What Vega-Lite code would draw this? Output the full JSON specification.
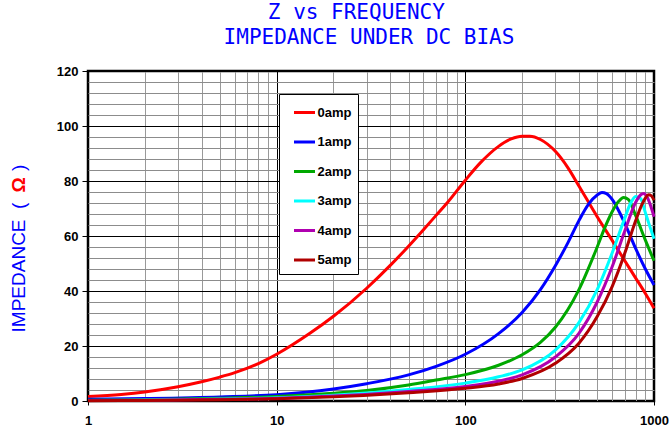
{
  "$schema": "https://vega.github.io/schema/vega-lite/v6.json",
  "width": 566,
  "height": 330,
  "autosize": "none",
  "padding": {"left": 88, "top": 71, "right": 15, "bottom": 28},
  "title": {
    "text": ["Z vs FREQUENCY\u00a0\u00a0\u200b", "IMPEDANCE UNDER DC BIAS"],
    "font": "DejaVu Sans Mono",
    "fontSize": 21,
    "fontWeight": "normal",
    "color": "#0000ff",
    "anchor": "middle",
    "frame": "group",
    "lineHeight": 25,
    "offset": 17,
    "dx": -2
  },
  "config": {
    "view": {"stroke": "black", "strokeWidth": 2.5},
    "font": "Liberation Sans"
  },
  "datasets": {
    "curves": [
      {"f": 1, "z": 1.6, "s": "0amp"}, {"f": 1.5, "z": 2.4, "s": "0amp"}, {"f": 2, "z": 3.3, "s": "0amp"}, {"f": 3, "z": 5.2, "s": "0amp"}, {"f": 4, "z": 7.0, "s": "0amp"}, {"f": 5, "z": 8.7, "s": "0amp"}, {"f": 6, "z": 10.3, "s": "0amp"}, {"f": 8, "z": 13.6, "s": "0amp"}, {"f": 10, "z": 17, "s": "0amp"}, {"f": 15, "z": 24.6, "s": "0amp"}, {"f": 20, "z": 30.8, "s": "0amp"}, {"f": 30, "z": 41, "s": "0amp"}, {"f": 40, "z": 49.3, "s": "0amp"}, {"f": 50, "z": 56.3, "s": "0amp"}, {"f": 60, "z": 62.3, "s": "0amp"}, {"f": 70, "z": 67.5, "s": "0amp"}, {"f": 80, "z": 72, "s": "0amp"}, {"f": 100, "z": 80.3, "s": "0amp"}, {"f": 120, "z": 86.6, "s": "0amp"}, {"f": 150, "z": 92.6, "s": "0amp"}, {"f": 175, "z": 95.3, "s": "0amp"}, {"f": 200, "z": 96.3, "s": "0amp"}, {"f": 220, "z": 96.3, "s": "0amp"}, {"f": 250, "z": 95.1, "s": "0amp"}, {"f": 300, "z": 90.8, "s": "0amp"}, {"f": 350, "z": 84.8, "s": "0amp"}, {"f": 400, "z": 78.2, "s": "0amp"}, {"f": 500, "z": 67, "s": "0amp"}, {"f": 600, "z": 58.4, "s": "0amp"}, {"f": 700, "z": 51, "s": "0amp"}, {"f": 800, "z": 44.7, "s": "0amp"}, {"f": 900, "z": 39.1, "s": "0amp"}, {"f": 1000, "z": 33.7, "s": "0amp"},
      {"f": 1, "z": 0.6, "s": "1amp"}, {"f": 2, "z": 0.9, "s": "1amp"}, {"f": 5, "z": 1.5, "s": "1amp"}, {"f": 10, "z": 2.3, "s": "1amp"}, {"f": 20, "z": 4.4, "s": "1amp"}, {"f": 30, "z": 6.3, "s": "1amp"}, {"f": 50, "z": 9.5, "s": "1amp"}, {"f": 70, "z": 12.6, "s": "1amp"}, {"f": 100, "z": 17, "s": "1amp"}, {"f": 150, "z": 24.5, "s": "1amp"}, {"f": 200, "z": 32.2, "s": "1amp"}, {"f": 250, "z": 40.5, "s": "1amp"}, {"f": 300, "z": 49.2, "s": "1amp"}, {"f": 350, "z": 57.6, "s": "1amp"}, {"f": 400, "z": 65.6, "s": "1amp"}, {"f": 450, "z": 71.6, "s": "1amp"}, {"f": 500, "z": 74.9, "s": "1amp"}, {"f": 530, "z": 75.8, "s": "1amp"}, {"f": 560, "z": 75.4, "s": "1amp"}, {"f": 600, "z": 73.3, "s": "1amp"}, {"f": 650, "z": 69.2, "s": "1amp"}, {"f": 700, "z": 64.6, "s": "1amp"}, {"f": 800, "z": 55.4, "s": "1amp"}, {"f": 900, "z": 48, "s": "1amp"}, {"f": 1000, "z": 42.2, "s": "1amp"},
      {"f": 1, "z": 0.3, "s": "2amp"}, {"f": 2, "z": 0.5, "s": "2amp"}, {"f": 5, "z": 1.0, "s": "2amp"}, {"f": 10, "z": 1.6, "s": "2amp"}, {"f": 20, "z": 2.8, "s": "2amp"}, {"f": 30, "z": 3.8, "s": "2amp"}, {"f": 50, "z": 5.8, "s": "2amp"}, {"f": 70, "z": 7.6, "s": "2amp"}, {"f": 100, "z": 9.6, "s": "2amp"}, {"f": 150, "z": 13, "s": "2amp"}, {"f": 200, "z": 16.8, "s": "2amp"}, {"f": 250, "z": 21.3, "s": "2amp"}, {"f": 300, "z": 26.8, "s": "2amp"}, {"f": 400, "z": 40.5, "s": "2amp"}, {"f": 500, "z": 56, "s": "2amp"}, {"f": 550, "z": 63.2, "s": "2amp"}, {"f": 600, "z": 68.8, "s": "2amp"}, {"f": 650, "z": 72.6, "s": "2amp"}, {"f": 690, "z": 74, "s": "2amp"}, {"f": 730, "z": 73.3, "s": "2amp"}, {"f": 800, "z": 67.4, "s": "2amp"}, {"f": 900, "z": 58.5, "s": "2amp"}, {"f": 1000, "z": 51, "s": "2amp"},
      {"f": 1, "z": 0.2, "s": "3amp"}, {"f": 2, "z": 0.35, "s": "3amp"}, {"f": 5, "z": 0.7, "s": "3amp"}, {"f": 10, "z": 1.2, "s": "3amp"}, {"f": 20, "z": 2.1, "s": "3amp"}, {"f": 50, "z": 4.2, "s": "3amp"}, {"f": 100, "z": 6.5, "s": "3amp"}, {"f": 150, "z": 8.8, "s": "3amp"}, {"f": 200, "z": 11.3, "s": "3amp"}, {"f": 300, "z": 18.5, "s": "3amp"}, {"f": 400, "z": 28.5, "s": "3amp"}, {"f": 500, "z": 40.5, "s": "3amp"}, {"f": 600, "z": 53.8, "s": "3amp"}, {"f": 700, "z": 66.5, "s": "3amp"}, {"f": 750, "z": 71.8, "s": "3amp"}, {"f": 800, "z": 74.4, "s": "3amp"}, {"f": 850, "z": 73.6, "s": "3amp"}, {"f": 900, "z": 68.5, "s": "3amp"}, {"f": 950, "z": 63.5, "s": "3amp"}, {"f": 1000, "z": 59, "s": "3amp"},
      {"f": 1, "z": 0.15, "s": "4amp"}, {"f": 2, "z": 0.3, "s": "4amp"}, {"f": 5, "z": 0.6, "s": "4amp"}, {"f": 10, "z": 1.0, "s": "4amp"}, {"f": 20, "z": 1.8, "s": "4amp"}, {"f": 50, "z": 3.5, "s": "4amp"}, {"f": 100, "z": 5.3, "s": "4amp"}, {"f": 150, "z": 7.2, "s": "4amp"}, {"f": 200, "z": 9.5, "s": "4amp"}, {"f": 300, "z": 16, "s": "4amp"}, {"f": 400, "z": 24.6, "s": "4amp"}, {"f": 500, "z": 36, "s": "4amp"}, {"f": 600, "z": 48.8, "s": "4amp"}, {"f": 700, "z": 61.8, "s": "4amp"}, {"f": 800, "z": 72.3, "s": "4amp"}, {"f": 850, "z": 75, "s": "4amp"}, {"f": 880, "z": 75.5, "s": "4amp"}, {"f": 920, "z": 74.2, "s": "4amp"}, {"f": 960, "z": 71, "s": "4amp"}, {"f": 1000, "z": 67, "s": "4amp"},
      {"f": 1, "z": 0.1, "s": "5amp"}, {"f": 2, "z": 0.2, "s": "5amp"}, {"f": 5, "z": 0.45, "s": "5amp"}, {"f": 10, "z": 0.8, "s": "5amp"}, {"f": 20, "z": 1.5, "s": "5amp"}, {"f": 50, "z": 3.0, "s": "5amp"}, {"f": 100, "z": 4.6, "s": "5amp"}, {"f": 150, "z": 6.2, "s": "5amp"}, {"f": 200, "z": 8.2, "s": "5amp"}, {"f": 300, "z": 13.7, "s": "5amp"}, {"f": 400, "z": 21, "s": "5amp"}, {"f": 500, "z": 30.7, "s": "5amp"}, {"f": 600, "z": 41.6, "s": "5amp"}, {"f": 700, "z": 53.7, "s": "5amp"}, {"f": 800, "z": 65.6, "s": "5amp"}, {"f": 860, "z": 71.2, "s": "5amp"}, {"f": 900, "z": 73.8, "s": "5amp"}, {"f": 935, "z": 75, "s": "5amp"}, {"f": 970, "z": 74.6, "s": "5amp"}, {"f": 1000, "z": 73, "s": "5amp"}
    ]
  },
  "data": {"name": "curves"},
  "layer": [
    {
      "mark": {"type": "line", "strokeWidth": 3, "interpolate": "monotone"},
      "encoding": {
        "x": {
          "field": "f", "type": "quantitative",
          "scale": {"type": "log", "domain": [1, 1000], "nice": false},
          "axis": {
            "values": [1,2,3,4,5,6,7,8,9,10,20,30,40,50,60,70,80,90,100,200,300,400,500,600,700,800,900,1000],
            "labelExpr": "(datum.value == 1 || datum.value == 10 || datum.value == 100 || datum.value == 1000) ? '' + datum.value : ''",
            "labelOverlap": false,
            "labelFlush": false,
            "labelFont": "Liberation Sans",
            "labelFontWeight": "bold",
            "labelFontSize": 13,
            "labelColor": "black",
            "labelPadding": 9,
            "domain": false,
            "grid": true,
            "gridColor": {"condition": {"test": "datum.value == 1 || datum.value == 10 || datum.value == 100 || datum.value == 1000", "value": "black"}, "value": "#999999"},
            "gridOpacity": 1,
            "gridWidth": 1,
            "tickColor": "black",
            "tickSize": {"condition": {"test": "datum.value == 1 || datum.value == 10 || datum.value == 100 || datum.value == 1000", "value": 4}, "value": 0},
            "title": null
          }
        },
        "y": {
          "field": "z", "type": "quantitative",
          "scale": {"domain": [0, 120], "nice": false},
          "axis": {
            "orient": "left",
            "values": [0,4,8,12,16,20,24,28,32,36,40,44,48,52,56,60,64,68,72,76,80,84,88,92,96,100,104,108,112,116,120],
            "labelExpr": "datum.value % 20 === 0 ? datum.label : ''",
            "labelOverlap": false,
            "labelFlush": false,
            "labelFont": "Liberation Sans",
            "labelFontWeight": "bold",
            "labelFontSize": 13,
            "labelColor": "black",
            "labelPadding": 4,
            "domain": false,
            "grid": true,
            "gridColor": {"condition": {"test": "datum.value % 20 === 0", "value": "black"}, "value": "#8c8c8c"},
            "gridOpacity": 1,
            "gridWidth": 1,
            "tickColor": "black",
            "tickSize": {"condition": {"test": "datum.value % 20 === 0", "value": 6}, "value": 0},
            "title": "IMPEDANCE\u00a0\u00a0(\u00a0\u00a0\u00a0\u00a0\u00a0\u00a0)",
            "titleFont": "Liberation Sans",
            "titleFontSize": 19,
            "titleFontWeight": "normal",
            "titleColor": "#0000ff",
            "titleAngle": 270,
            "titleAlign": "center",
            "titleBaseline": "middle",
            "titleLimit": 400,
            "titleX": -69.7,
            "titleY": 177
          }
        },
        "color": {
          "field": "s", "type": "nominal",
          "scale": {
            "domain": ["0amp", "1amp", "2amp", "3amp", "4amp", "5amp"],
            "range": ["#ff0000", "#0000ff", "#00a800", "#00ffff", "#b000b0", "#b00000"]
          },
          "legend": {
            "orient": "none",
            "legendX": 191,
            "legendY": 23,
            "title": null,
            "direction": "vertical",
            "symbolType": "stroke",
            "symbolSize": 441,
            "symbolStrokeWidth": 3,
            "symbolOffset": 7,
            "labelOffset": 1,
            "labelFont": "Liberation Sans",
            "labelFontSize": 13,
            "labelFontWeight": "bold",
            "labelColor": "black",
            "rowPadding": 10.5,
            "padding": 6.5,
            "strokeColor": "black",
            "fillColor": "white"
          }
        }
      }
    },
    {
      "mark": {"type": "point", "opacity": 0},
      "encoding": {
        "y": {
          "field": "z", "type": "quantitative",
          "axis": {
            "orient": "right",
            "labels": false,
            "ticks": false,
            "domain": false,
            "grid": false,
            "title": "Ω",
            "titleFont": "Liberation Sans",
            "titleFontSize": 19,
            "titleFontWeight": "bold",
            "titleColor": "#ff0000",
            "titleAngle": 270,
            "titleAlign": "center",
            "titleBaseline": "middle",
            "titleX": -635.7,
            "titleY": 113.5
          }
        }
      }
    }
  ],
  "resolve": {"axis": {"y": "independent"}}
}
